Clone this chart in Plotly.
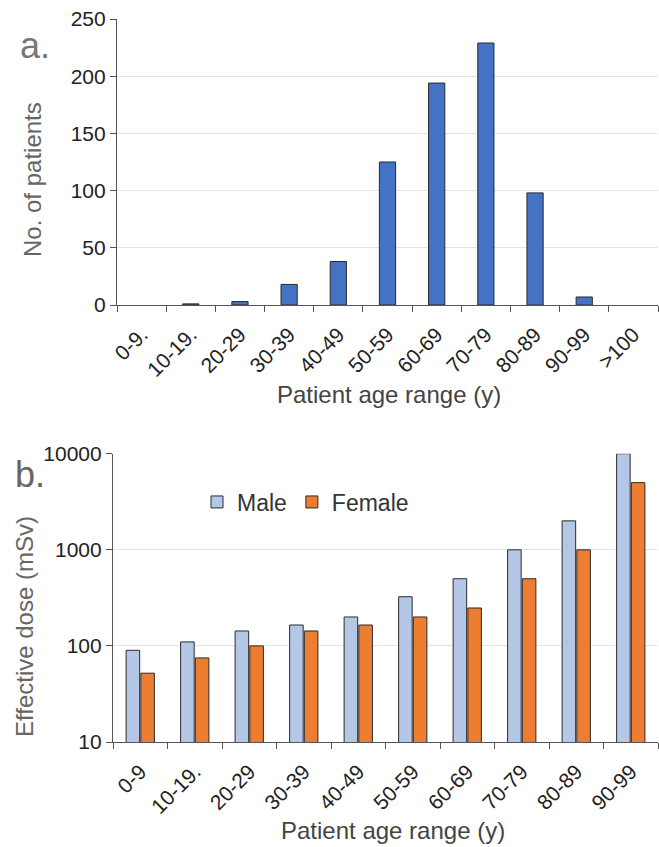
import plotly.graph_objects as go

# Panel a: patient counts per age range
age_ranges_a = ["0-9.", "10-19.", "20-29", "30-39", "40-49", "50-59",
                "60-69", "70-79", "80-89", "90-99", ">100"]
patients = [0, 1, 3, 18, 38, 125, 194, 229, 98, 7, 0]

# Panel b: effective dose by sex per age range
age_ranges_b = ["0-9", "10-19.", "20-29", "30-39", "40-49", "50-59",
                "60-69", "70-79", "80-89", "90-99"]
dose_male = [90, 110, 143, 165, 200, 325, 500, 1000, 2000, 10000]
dose_female = [52, 75, 100, 143, 165, 200, 248, 500, 1000, 5000]

W, H = 659, 847
FONT = "Liberation Sans, Arial, sans-serif"
OUTLINE = "#2b2b2b"

fig = go.Figure()

# empty age groups are left without a bar outline
fig.add_trace(go.Bar(
    x=age_ranges_a, y=[v if v else None for v in patients],
    xaxis="x", yaxis="y", width=0.33,
    marker=dict(color="#4472C4", line=dict(color=OUTLINE, width=1)),
    showlegend=False,
))
fig.add_trace(go.Bar(
    x=age_ranges_b, y=dose_male, xaxis="x2", yaxis="y2", name="Male",
    marker=dict(color="#B4C7E7", line=dict(color=OUTLINE, width=1)),
))
fig.add_trace(go.Bar(
    x=age_ranges_b, y=dose_female, xaxis="x2", yaxis="y2", name="Female",
    marker=dict(color="#ED7D31", line=dict(color=OUTLINE, width=1)),
))


def px_x(p):
    return p / W


def px_y(p):
    return 1 - p / H


tick_font = dict(family=FONT, size=21, color="#222")
ytick_font = dict(family=FONT, size=21, color="#222")

common_x = dict(
    type="category", showline=True, linecolor="#555", linewidth=1.2,
    ticks="outside", tickson="boundaries", ticklen=6, tickcolor="#555",
    tickangle=-45, tickfont=tick_font, ticklabelstandoff=8,
    showgrid=False, automargin=False,
)
common_y = dict(
    showline=True, linecolor="#555", linewidth=1.2, ticks="outside",
    ticklen=6, tickcolor="#555", tickfont=ytick_font, showgrid=True,
    gridcolor="#e3e3e3", gridwidth=1, zeroline=False, automargin=False,
)

fig.update_layout(
    width=W, height=H,
    margin=dict(l=0, r=0, t=0, b=0),
    paper_bgcolor="white", plot_bgcolor="white",
    barmode="group", bargap=0.46, bargroupgap=0.08,
    font=dict(family=FONT),
    xaxis=dict(common_x, domain=[px_x(117), px_x(658)], anchor="y"),
    yaxis=dict(common_y, domain=[px_y(305), px_y(19)], anchor="x",
               range=[0, 250], tickvals=[0, 50, 100, 150, 200, 250]),
    xaxis2=dict(common_x, domain=[px_x(113), px_x(658)], anchor="y2"),
    yaxis2=dict(common_y, domain=[px_y(742), px_y(453.7)], anchor="x2",
                type="log", range=[1, 4],
                tickvals=[10, 100, 1000, 10000],
                ticktext=["10", "100", "1000", "10000"]),
    legend=dict(
        orientation="h", x=px_x(197), y=px_y(502), xanchor="left",
        yanchor="middle", font=dict(family=FONT, size=23, color="#333"),
        bgcolor="rgba(0,0,0,0)", itemwidth=30, traceorder="normal",
    ),
    showlegend=True,
)

annotations = [
    dict(text="a.", x=px_x(35), y=px_y(46), font=dict(size=36, color="#777")),
    dict(text="b.", x=px_x(30), y=px_y(474), font=dict(size=36, color="#666")),
    dict(text="No. of patients", x=px_x(32), y=px_y(180), textangle=-90,
         font=dict(size=24, color="#666")),
    dict(text="Effective dose (mSv)", x=px_x(24), y=px_y(627), textangle=-90,
         font=dict(size=24, color="#666")),
    dict(text="Patient age range (y)", x=px_x(389), y=px_y(394),
         font=dict(size=24, color="#444")),
    dict(text="Patient age range (y)", x=px_x(393), y=px_y(830),
         font=dict(size=24, color="#444")),
]
for a in annotations:
    a.update(xref="paper", yref="paper", showarrow=False,
             xanchor="center", yanchor="middle")
    a["font"]["family"] = FONT
fig.update_layout(annotations=annotations)

fig.write_html("out.html")
